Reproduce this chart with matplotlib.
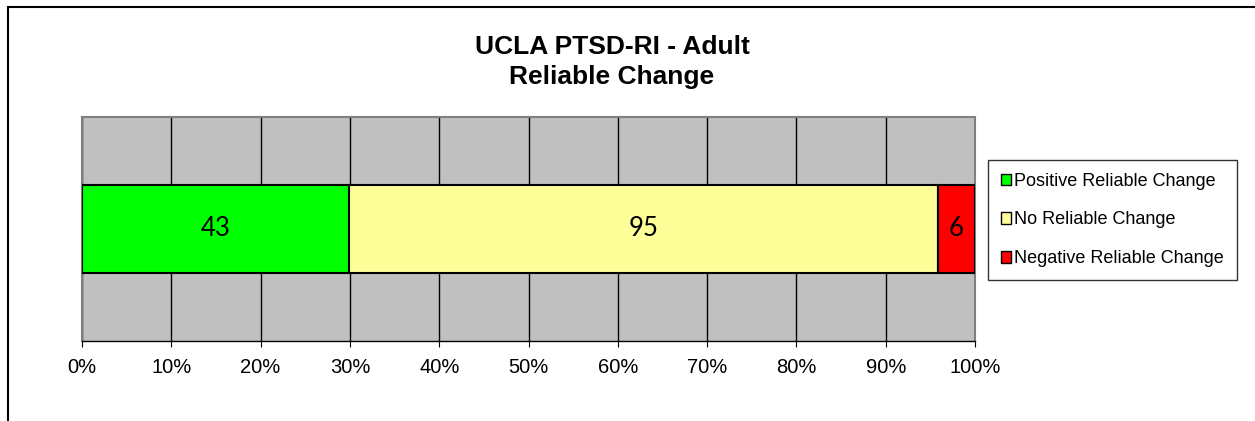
import matplotlib.pyplot as plt
from matplotlib.patches import Rectangle
from matplotlib.ticker import PercentFormatter

categories = ['Positive Reliable Change', 'No Reliable Change', 'Negative Reliable Change']
counts = [43, 95, 6]
colors = ['#00FF00', '#FFFF99', '#FF0000']

total = sum(counts)
shares = [c / total * 100 for c in counts]

plt.rcParams['font.family'] = ['Liberation Sans', 'DejaVu Sans']

fig = plt.figure(figsize=(12.55, 4.21), dpi=100)
# outer chart frame
fig.patches.append(Rectangle((8 / 1255, -0.1), 1.2, (421 - 7) / 421 + 0.1,
                             transform=fig.transFigure, fill=False,
                             edgecolor='black', linewidth=1.5))

ax = fig.add_axes([82 / 1255, 1 - 341 / 421, (975 - 82) / 1255, (341 - 117) / 421])
ax.set_facecolor('#C0C0C0')

left = 0
for name, s, n, c in zip(categories, shares, counts, colors):
    ax.barh(0, s, left=left, height=0.393, color=c, edgecolor='black',
            linewidth=1.5, label=name, zorder=3)
    ax.text(left + s / 2, 0, str(n), ha='center', va='center',
            fontsize=18.5, family='Lato', zorder=4)
    left += s

ax.set_xlim(0, 100)
ax.set_ylim(-0.5, 0.5)
ax.set_xticks(range(0, 101, 10))
ax.xaxis.set_major_formatter(PercentFormatter(decimals=0))
ax.set_yticks([])
ax.tick_params(axis='x', direction='out', length=4, labelsize=14.5,
               colors='black', pad=8)
ax.grid(axis='x', color='black', linewidth=1, zorder=1)

for side in ['top', 'left', 'right']:
    ax.spines[side].set_color('#808080')
    ax.spines[side].set_linewidth(1.5)
ax.spines['bottom'].set_color('black')
ax.spines['bottom'].set_linewidth(1)

fig.text(612 / 1255, 1 - 62 / 421, 'UCLA PTSD-RI - Adult\nReliable Change',
         ha='center', va='center', fontsize=19, fontweight='bold',
         linespacing=1.3)

leg = ax.legend(loc='center left', bbox_to_anchor=(988 / 1255, 1 - 220 / 421),
                bbox_transform=fig.transFigure, frameon=True, fancybox=False,
                edgecolor='black', fontsize=13, handlelength=0.6,
                handleheight=0.6, handletextpad=0.15, labelspacing=1.2,
                borderpad=0.7, borderaxespad=0)
leg.get_frame().set_linewidth(1)
for h in leg.legend_handles:
    h.set_linewidth(1)

fig.savefig('out.png', dpi=100)
